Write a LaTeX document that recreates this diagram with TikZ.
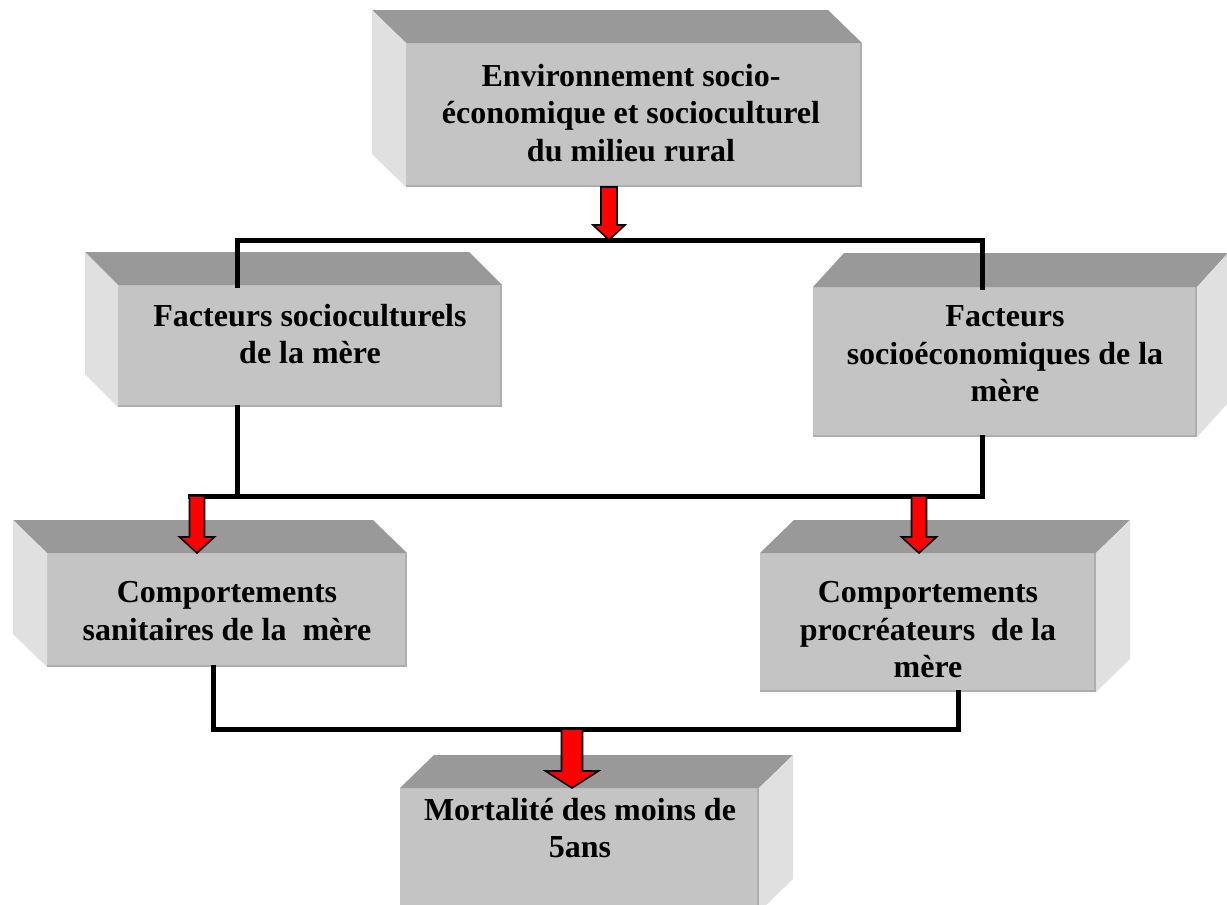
\documentclass[tikz,border=0pt]{standalone}
\usepackage{fontspec}
\setmainfont{Liberation Serif}
\usetikzlibrary{calc}
\definecolor{frontc}{HTML}{C4C4C4}
\definecolor{topc}{HTML}{999999}
\definecolor{sidec}{HTML}{E0E0E0}
\definecolor{edgec}{HTML}{AEAEAE}
\tikzset{
  frontface/.style={rectangle, fill=frontc, inner sep=0pt, outer sep=0pt},
  txt/.style={align=center, font=\bfseries\fontsize{32}{37.5}\selectfont, inner sep=0pt},
  conn/.style={line width=5pt, black, line cap=rect},
  redarr/.style={fill=red, draw=black, line width=1.6pt, line join=miter},
}
% top face: #1 node, #2 dx, #3 dy
\newcommand\mytopface[3]{%
  \fill[topc] (#1.north west) -- (#1.north east) -- ([shift={(#2,#3)}]#1.north east) -- ([shift={(#2,#3)}]#1.north west) -- cycle;}
\newcommand\mysideL[3]{%
  \fill[sidec] (#1.north west) -- (#1.south west) -- ([shift={(#2,#3)}]#1.south west) -- ([shift={(#2,#3)}]#1.north west) -- cycle;}
\newcommand\mysideR[3]{%
  \fill[sidec] (#1.north east) -- (#1.south east) -- ([shift={(#2,#3)}]#1.south east) -- ([shift={(#2,#3)}]#1.north east) -- cycle;}
\newcommand\myedges[1]{%
  \draw[edgec, line width=1.6pt] ([yshift=0.8pt]#1.south west) -- ([yshift=0.8pt,xshift=-0.8pt]#1.south east) -- ([xshift=-0.8pt]#1.north east);}
% block arrow: #1 top coordinate, #2 tip coordinate, #3 half shaft, #4 half head, #5 head length
\newcommand\myblockarrow[5]{%
  \filldraw[redarr] ($(#1)+(-#3,0)$) -- ($(#2)+(-#3,-#5)$) -- ($(#2)+(-#4,-#5)$) -- (#2) -- ($(#2)+(#4,-#5)$) -- ($(#2)+(#3,-#5)$) -- ($(#1)+(#3,0)$) -- cycle;}
\begin{document}
\begin{tikzpicture}[x=1pt, y=-1pt]
\useasboundingbox (0,0) rectangle (1227,905);
\fill[white] (0,0) rectangle (1227,905);
\clip (0,0) rectangle (1227,905);

% ---------- boxes (front faces) ----------
\node[frontface, minimum width=456pt, minimum height=144pt] (f1) at (634,115) {};
\node[frontface, minimum width=384pt, minimum height=122pt] (f2) at (310,346) {};
\node[frontface, minimum width=384pt, minimum height=150pt] (f3) at (1005,362) {};
\node[frontface, minimum width=360pt, minimum height=114pt] (f4) at (227,610) {};
\node[frontface, minimum width=336pt, minimum height=139pt] (f5) at (928,622.5) {};
\node[frontface, minimum width=359pt, minimum height=124pt] (f6) at (579.5,850) {};

\mytopface{f1}{-34}{-33}\mysideL{f1}{-34}{-33}\myedges{f1}
\mytopface{f2}{-33}{-33}\mysideL{f2}{-33}{-33}\myedges{f2}
\mytopface{f3}{31}{-34}\mysideR{f3}{31}{-34}\myedges{f3}
\mytopface{f4}{-34}{-33}\mysideL{f4}{-34}{-33}\myedges{f4}
\mytopface{f5}{34}{-33}\mysideR{f5}{34}{-33}\myedges{f5}
\mytopface{f6}{34}{-33}\mysideR{f6}{34}{-33}\myedges{f6}

% ---------- texts ----------
\node[txt] (t1) at (631,113) {Environnement socio-\\économique et socioculturel\\du milieu rural};
\node[txt] (t2) at (310,334) {Facteurs socioculturels\\de la mère};
\node[txt] (t3) at (1005,354) {Facteurs\\socioéconomiques de la\\mère};
\node[txt] (t4) at (227,611) {Comportements\\sanitaires de la\ \ mère};
\node[txt] (t5) at (928,630) {Comportements\\procréateurs\ \ de la\\mère};
\node[txt] (t6) at (580,828) {Mortalité des moins de\\5ans};

% ---------- bus coordinates ----------
\coordinate (aTop) at (609,240);
\coordinate (busAL) at (237,240);
\coordinate (busAR) at (982,240);
\coordinate (busBL) at (190,496);
\coordinate (busBR) at (982,496);
\coordinate (xB2) at (237,0);
\coordinate (aL) at (197,553);
\coordinate (aR) at (919,553);
\coordinate (busCL) at (213,729);
\coordinate (busCR) at (958,729);
\coordinate (aBot) at (572,788);

% ---------- connectors ----------
\draw[conn] (f2.north -| busAL) -- (busAL) -- (busAR) -- (f3.north -| busAR);
\draw[conn] (f2.south -| xB2) -- (busBL -| xB2);
\draw[conn] (busBL) -- (busBR) -- (f3.south -| busBR);
\draw[conn] (f4.south -| busCL) -- (busCL) -- (busCR) -- (f5.south -| busCR);

% ---------- red block arrows ----------
\myblockarrow{f1.south -| aTop}{aTop}{8}{16}{15}
\myblockarrow{busBL -| aL}{aL}{7.5}{17.5}{16}
\myblockarrow{busBR -| aR}{aR}{7.5}{17.5}{16}
\myblockarrow{busCL -| aBot}{aBot}{10.5}{26.5}{17}
\end{tikzpicture}
\end{document}
